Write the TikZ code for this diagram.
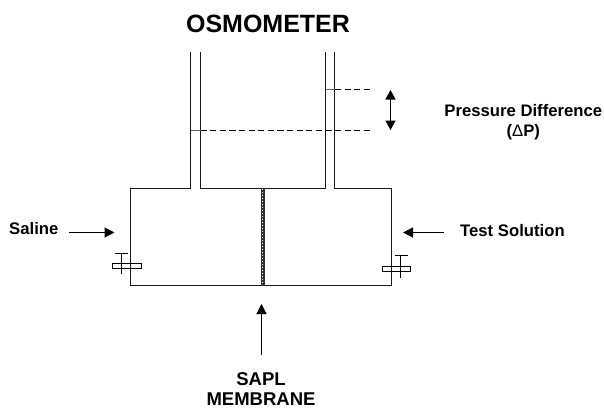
\documentclass[tikz,border=0pt]{standalone}
\usepackage{fontspec}
\setmainfont{Liberation Sans}
\usetikzlibrary{arrows.meta}
\tikzset{
 x=1pt,y=-1pt,
 wall/.style={line width=1pt,draw=black!90},
 lab/.style={font=\fontsize{16.7}{20.5}\selectfont\bfseries,inner sep=0pt,align=center},
 bigLab/.style={font=\fontsize{18.5}{21}\selectfont\bfseries,inner sep=0pt,align=center},
 arr/.style={line width=1.1pt,-{Triangle[length=10pt,width=10pt]}},
 dashline/.style={line width=1.2pt,dash pattern=on 6.2pt off 3.4pt},
 thin line/.style={line width=0.8pt}
}
\begin{document}
\begin{tikzpicture}
\useasboundingbox (0,0) rectangle (604,407);
% vessel
\draw[wall] (190.5,52) -- (190.5,188.5) -- (130.5,188.5) -- (130.5,285.5) -- (391.5,285.5) -- (391.5,188.5) -- (334.5,188.5) -- (334.5,52);
\draw[wall] (200.5,52) -- (200.5,188.5) -- (325.5,188.5) -- (325.5,52);
% membrane
\fill[black!80] (261,188) rectangle (264.8,285.5);
\draw[white,line width=1pt,dash pattern=on 1pt off 2pt] (262.9,189) -- (262.9,285);
% levels
\coordinate (hiA) at (325.5,89.5); \coordinate (hiB) at (335,89.5); \coordinate (hiC) at (370,89.5);
\coordinate (loA) at (190.5,130.5); \coordinate (loB) at (200.5,130.5); \coordinate (loC) at (373,130.5);
\draw[line width=1.1pt,black!60] (hiA) -- (hiB);
\draw[line width=1.1pt,black!60] (loA) -- (loB);
\draw[dashline] (hiB) -- (hiC);
\draw[dashline] (loB) -- (loC);
% valves
\draw[thin line] (112,263.5) rectangle (141,268.5);
\draw[thin line] (115,253.5) -- (127.5,253.5);
\draw[thin line] (121.5,253.5) -- (121.5,274);
\draw[thin line] (382,266.5) rectangle (410.5,271.5);
\draw[thin line] (395,255.5) -- (408,255.5);
\draw[thin line] (400.5,255.5) -- (400.5,277.5);
% labels
\node[lab,font=\fontsize{25}{28}\selectfont\bfseries,anchor=base] (title) at (268,32) {OSMOMETER};
\node[lab,anchor=base west] (saline) at (9,234.3) {Saline};
\node[lab,anchor=base west] (test) at (460,236.7) {Test Solution};
\node[lab,anchor=base] (pd) at (523.3,116) {Pressure Difference};
\node[lab,anchor=base] (dp) at (523.3,136) {({\fontseries{m}\selectfont Δ}P)};
\node[bigLab,anchor=base] (sapl) at (261,385) {SAPL};
\node[bigLab,anchor=base] (memb) at (261,405) {MEMBRANE};
% arrows
\coordinate (salA) at (69,232.5); \coordinate (salB) at (114.5,232.5);
\coordinate (tesA) at (444,232.5); \coordinate (tesB) at (403,232.5);
\coordinate (memA) at (261.5,355); \coordinate (memB) at (261.5,304);
\coordinate (dpA) at (390.5,90); \coordinate (dpB) at (390.5,130);
\draw[arr] (salA) -- (salB);
\draw[arr] (tesA) -- (tesB);
\draw[arr] (memA) -- (memB);
\draw[line width=1.5pt,{Triangle[length=9.5pt,width=10pt]}-{Triangle[length=9.5pt,width=10pt]}] (dpA) -- (dpB);
\end{tikzpicture}
\end{document}
